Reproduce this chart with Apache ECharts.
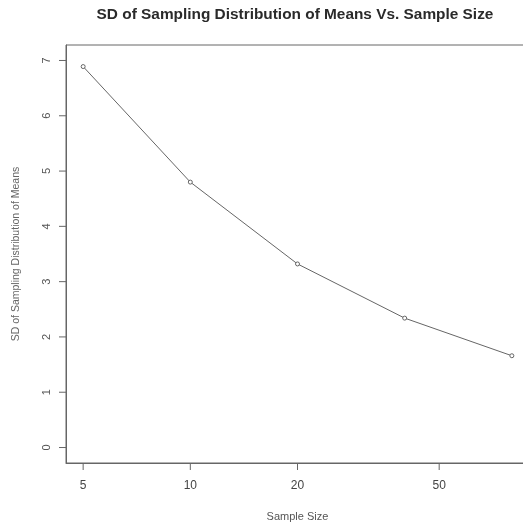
<!DOCTYPE html>
<html>
<head>
<meta charset="utf-8">
<script src="https://cdn.jsdelivr.net/npm/echarts@6/dist/echarts.min.js"></script>
<style>
  html, body { margin: 0; padding: 0; background: #ffffff; }
  #chart { width: 523px; height: 528px; }
</style>
</head>
<body>
<div id="chart"></div>
<script>
// Sample sizes and the standard deviation of the sample mean at each size
const sampleSizes = [5, 10, 20, 40, 80];
const sdOfMeans = [6.89, 4.80, 3.32, 2.34, 1.66];
const xTickValues = [5, 10, 20, 50];
const yTickValues = [0, 1, 2, 3, 4, 5, 6, 7];

// Log-scale x range padded 4% on each side (in log units), y range 0..7 padded likewise
const logPad = Math.pow(80 / 5, 0.04);
const xMin = 5 / logPad;
const xMax = 80 * logPad;
const yMin = -0.28;
const yMax = 7.28;

const chart = echarts.init(document.getElementById('chart'));
const textColor = '#555';
const frameColor = '#666';
const tickLen = 7;

// Outward tick marks placed through the axes' own scales
function xTickItem(params, api) {
  const p = api.coord([api.value(0), yMin]);
  return {
    type: 'line',
    shape: { x1: p[0], y1: p[1], x2: p[0], y2: p[1] + tickLen },
    style: { stroke: frameColor, lineWidth: 1 }
  };
}
function yTickItem(params, api) {
  const p = api.coord([xMin, api.value(1)]);
  return {
    type: 'line',
    shape: { x1: p[0], y1: p[1], x2: p[0] - tickLen, y2: p[1] },
    style: { stroke: frameColor, lineWidth: 1 }
  };
}

chart.setOption({
  animation: false,
  backgroundColor: '#ffffff',
  title: {
    text: 'SD of Sampling Distribution of Means Vs. Sample Size',
    left: 290,
    textAlign: 'center',
    top: 2,
    textStyle: { fontFamily: 'Liberation Sans', fontSize: 15.4, fontWeight: 'bold', color: '#2a2a2a' }
  },
  grid: {
    left: 66, top: 45, width: 463, height: 418,
    outerBoundsMode: 'none',
    containLabel: false,
    show: true, borderColor: frameColor, borderWidth: 1, backgroundColor: 'transparent'
  },
  xAxis: {
    type: 'log',
    logBase: 10,
    min: xMin,
    max: xMax,
    name: 'Sample Size',
    nameLocation: 'middle',
    nameGap: 48,
    nameTextStyle: { fontFamily: 'Liberation Sans', fontSize: 11, color: textColor },
    axisLine: { show: true, onZero: false, lineStyle: { color: frameColor, width: 1 } },
    splitLine: { show: false },
    axisTick: { show: false },
    axisLabel: {
      customValues: xTickValues,
      margin: 17,
      fontFamily: 'Liberation Sans', fontSize: 12, color: '#444',
      formatter: v => String(Math.round(v))
    }
  },
  yAxis: {
    type: 'value',
    min: yMin,
    max: yMax,
    name: 'SD of Sampling Distribution of Means',
    nameLocation: 'middle',
    nameGap: 44,
    nameRotate: 90,
    nameTextStyle: { fontFamily: 'Liberation Sans', fontSize: 10.5, color: '#666' },
    axisLine: { show: true, onZero: false, lineStyle: { color: frameColor, width: 1 } },
    splitLine: { show: false },
    axisTick: { show: false },
    axisLabel: {
      customValues: yTickValues,
      rotate: 90,
      margin: 14,
      fontFamily: 'Liberation Sans', fontSize: 11, color: '#555',
      formatter: v => String(Math.round(v))
    }
  },
  series: [
    {
      type: 'line',
      data: sampleSizes.map((n, i) => [n, sdOfMeans[i]]),
      symbol: 'circle',
      symbolSize: 4,
      showSymbol: true,
      itemStyle: { color: '#ffffff', borderColor: '#666', borderWidth: 1 },
      lineStyle: { color: '#666', width: 1 },
      clip: false
    },
    {
      type: 'custom',
      silent: true,
      clip: false,
      data: xTickValues.map(v => [v, yMin]),
      encode: { x: 0, y: 1 },
      renderItem: xTickItem
    },
    {
      type: 'custom',
      silent: true,
      clip: false,
      data: yTickValues.map(v => [xMin, v]),
      encode: { x: 0, y: 1 },
      renderItem: yTickItem
    }
  ]
});
</script>
</body>
</html>
